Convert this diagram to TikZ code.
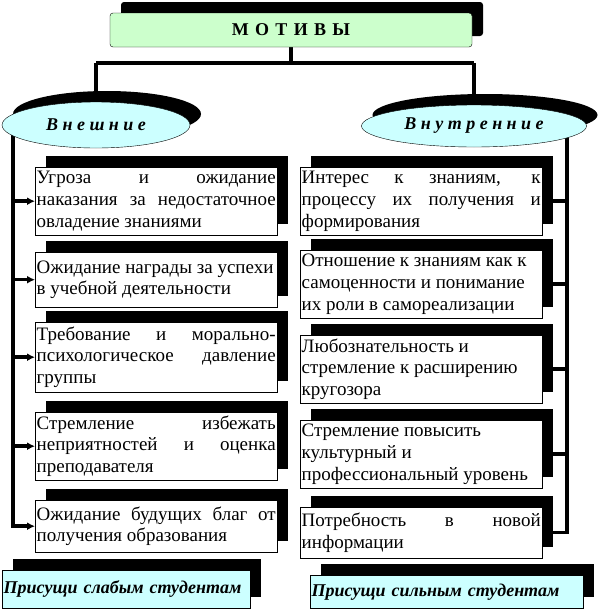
\documentclass[tikz,border=0pt]{standalone}
\usepackage{fontspec}
\setmainfont{Liberation Serif}
\usetikzlibrary{arrows.meta,shadows,shapes.geometric,backgrounds}
\definecolor{titlegreen}{RGB}{204,255,204}
\definecolor{ovalcyan}{RGB}{204,255,255}

\begin{document}
\begin{tikzpicture}[x=1pt,y=-1pt,
    sh/.style={drop shadow={shadow xshift=11pt,shadow yshift=11pt,fill=black,opacity=1}},
    title/.style={draw,fill=titlegreen,sh,rounded corners=3pt,minimum width=362pt,minimum height=34pt,inner sep=0pt,
      font=\fontsize{18}{20}\selectfont\bfseries\addfontfeatures{LetterSpace=10}},
    group/.style={ellipse,draw,fill=ovalcyan,sh,inner sep=0pt,
      font=\fontsize{18}{20}\selectfont\bfseries\itshape\addfontfeatures{LetterSpace=25}},
    motiv/.style={draw,fill=white,sh,anchor=north west,inner xsep=1.5pt,inner ysep=0pt,text width=239pt,
      align=justify,font=\fontsize{19}{21.7}\selectfont},
    owner/.style={draw,fill=ovalcyan,sh,anchor=north west,inner xsep=1.5pt,inner ysep=0pt,align=left,
      font=\fontsize{18}{20}\selectfont\bfseries\itshape},
    spine/.style={line width=3.5pt},
    tip/.style={-{Latex[length=8pt,width=8pt]}}
  ]
  \useasboundingbox (0,0) rectangle (600,611);

  \node[title] (mot) at (291,30) {М О Т И В Ы};
  \node[group,minimum width=188pt,minimum height=46pt] (ext) at (96,125) {Внешние};
  \node[group,minimum width=225pt,minimum height=42pt] (int) at (474,126) {Внутренние};

  \node[motiv,minimum height=68pt] (u1) at (35,167) {Угроза и ожидание\linebreak наказания за недостаточное\linebreak овладение знаниями};
  \node[motiv,minimum height=55pt] (u2) at (35,252) {Ожидание награды за успехи\\ в учебной деятельности};
  \node[motiv,minimum height=70pt] (u3) at (35,322) {Требование и морально-\linebreak психологическое давление\linebreak группы};
  \node[motiv,minimum height=68pt] (u4) at (35,412) {Стремление избежать\linebreak неприятностей и оценка\linebreak преподавателя};
  \node[motiv,minimum height=52pt] (u5) at (35,500) {Ожидание будущих благ от\linebreak получения образования};

  \node[motiv,minimum height=68pt] (v1) at (300,167) {Интерес к знаниям, к\linebreak процессу их получения и\linebreak формирования};
  \node[motiv,minimum height=68pt] (v2) at (300,250) {Отношение к знаниям как к\\ самоценности и понимание\\ их роли в самореализации};
  \node[motiv,minimum height=68pt] (v3) at (300,335) {Любознательность и\\ стремление к расширению\\ кругозора};
  \node[motiv,minimum height=68pt] (v4) at (300,420) {Стремление повысить\\ культурный и\\ профессиональный уровень};
  \node[motiv,minimum height=51pt] (v5) at (300,507) {Потребность в новой\linebreak информации};

  \node[owner,text width=245pt,minimum height=38pt] (weak) at (2,570) {Присущи слабым студентам};
  \node[owner,text width=270pt,minimum height=33pt] (strong) at (310,575) {Присущи сильным студентам};

  \begin{scope}[on background layer]
    \coordinate (lspine) at (13,125);
    \coordinate (rspine) at (567,126);
    \draw[spine] (mot.south) -- ++(0,16) coordinate (fork)
      (ext.north |- fork) -- (int.north |- fork)
      (ext.north |- fork) -- (ext.north)
      (int.north |- fork) -- (int.north);
    \draw[spine,tip] (lspine) |- (u5.west);
    \foreach \b in {u1,u2,u3,u4}
      \draw[spine,tip] (lspine |- \b.west) -- (\b.west);
    \draw[spine] (rspine) |- (v5.east);
    \foreach \b in {v1,v2,v3,v4}
      \draw[spine] (rspine |- \b.east) -- (\b.east);
  \end{scope}
\end{tikzpicture}
\end{document}
